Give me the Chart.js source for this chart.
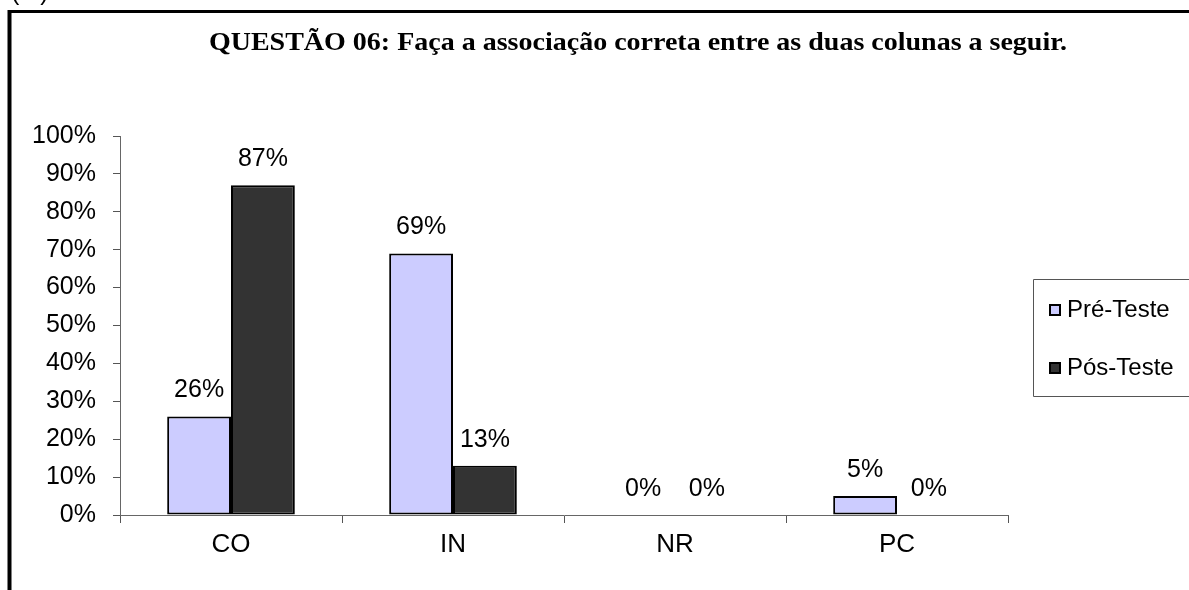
<!DOCTYPE html>
<html><head><meta charset="utf-8">
<script src="https://cdn.jsdelivr.net/npm/chart.js@4"></script>
<style>html,body{margin:0;padding:0;background:#fff;overflow:hidden}
#wrap{position:relative;width:1189px;height:590px}
</style></head>
<body><div id="wrap"><canvas id="c" width="1189" height="590"></canvas></div>
<script>
const titleText = 'QUESTÃO 06: Faça a associação correta entre as duas colunas a seguir.';
const categories = ['CO', 'IN', 'NR', 'PC'];
const seriesNames = ['Pré-Teste', 'Pós-Teste'];
const preTeste = [26, 69, 0, 5];
const posTeste = [87, 13, 0, 0];
const yTicks = [0, 10, 20, 30, 40, 50, 60, 70, 80, 90, 100];

const SANS = '"Liberation Sans", Arial, sans-serif';

const decor = {
  id: 'decor',
  afterDraw(chart) {
    const ctx = chart.ctx;
    ctx.save();
    // cut-off text at very top
    ctx.fillStyle = '#000';
    ctx.font = '25px ' + SANS;
    ctx.textBaseline = 'alphabetic';
    ctx.textAlign = 'left';
    ctx.fillText('(...)', 11, 0);
    // outer border
    ctx.strokeStyle = '#000';
    ctx.lineWidth = 4;
    ctx.beginPath();
    ctx.moveTo(9.5, 600);
    ctx.lineTo(9.5, 10);
    ctx.stroke();
    ctx.lineWidth = 3;
    ctx.beginPath();
    ctx.moveTo(8, 11.5);
    ctx.lineTo(1200, 11.5);
    ctx.stroke();
    // title
    ctx.save();
    ctx.font = 'bold 25px "Liberation Serif", "Times New Roman", serif';
    ctx.textAlign = 'center';
    ctx.textBaseline = 'middle';
    ctx.translate(638, 44);
    ctx.scale(1.12, 1);
    ctx.fillText(titleText, 0, 0);
    ctx.restore();
    // data labels
    ctx.font = '25px ' + SANS;
    ctx.textAlign = 'center';
    ctx.textBaseline = 'middle';
    chart.data.datasets.forEach((ds, di) => {
      const meta = chart.getDatasetMeta(di);
      meta.data.forEach((bar, i) => {
        ctx.fillText(ds.data[i] + '%', bar.x, bar.y - 26);
      });
    });
    // legend
    ctx.lineWidth = 1;
    ctx.strokeStyle = '#555';
    ctx.beginPath();
    ctx.moveTo(1200, 279.5);
    ctx.lineTo(1033.5, 279.5);
    ctx.lineTo(1033.5, 396.5);
    ctx.lineTo(1200, 396.5);
    ctx.stroke();
    const ly = [310, 368];
    ctx.font = '24px ' + SANS;
    chart.data.datasets.forEach((ds, di) => {
      ctx.fillStyle = ds.backgroundColor;
      ctx.fillRect(1050, ly[di] - 5, 10, 10);
      ctx.strokeStyle = '#000';
      ctx.lineWidth = 2;
      ctx.strokeRect(1050, ly[di] - 5, 10, 10);
      ctx.fillStyle = '#000';
      ctx.textAlign = 'left';
      ctx.fillText(ds.label, 1067, ly[di]);
    });
    ctx.restore();
  }
};

new Chart(document.getElementById('c'), {
  type: 'bar',
  data: {
    labels: categories,
    datasets: [
      { label: seriesNames[0], data: preTeste, backgroundColor: '#CCCCFF', borderColor: '#000', borderWidth: 2, borderSkipped: false },
      { label: seriesNames[1], data: posTeste, backgroundColor: '#333333', borderColor: '#000', borderWidth: 2, borderSkipped: false }
    ]
  },
  options: {
    responsive: false,
    animation: false,
    events: [],
    layout: { padding: { left: 0, top: 136, right: 181, bottom: 0 } },
    plugins: { legend: { display: false }, title: { display: false }, tooltip: { enabled: false } },
    datasets: { bar: { categoryPercentage: 0.575, barPercentage: 1 } },
    scales: {
      x: {
        offset: true,
        grid: { offset: true, drawOnChartArea: false, drawTicks: true, tickLength: 8, color: '#555', lineWidth: 1 },
        border: { display: true, color: '#666', width: 1 },
        ticks: { color: '#000', font: { family: SANS, size: 26 }, padding: 6 },
        afterFit(s) { s.height = 75; }
      },
      y: {
        min: 0, max: 100,
        afterBuildTicks(s) { s.ticks = yTicks.map(v => ({ value: v })); },
        grid: { drawOnChartArea: false, drawTicks: true, tickLength: 7, color: '#555', lineWidth: 1 },
        border: { display: true, color: '#666', width: 1 },
        ticks: { color: '#000', font: { family: SANS, size: 25 }, padding: 17, callback: v => v + '%' },
        afterFit(s) { s.width = 120; }
      }
    }
  },
  plugins: [decor]
});
</script></body></html>
